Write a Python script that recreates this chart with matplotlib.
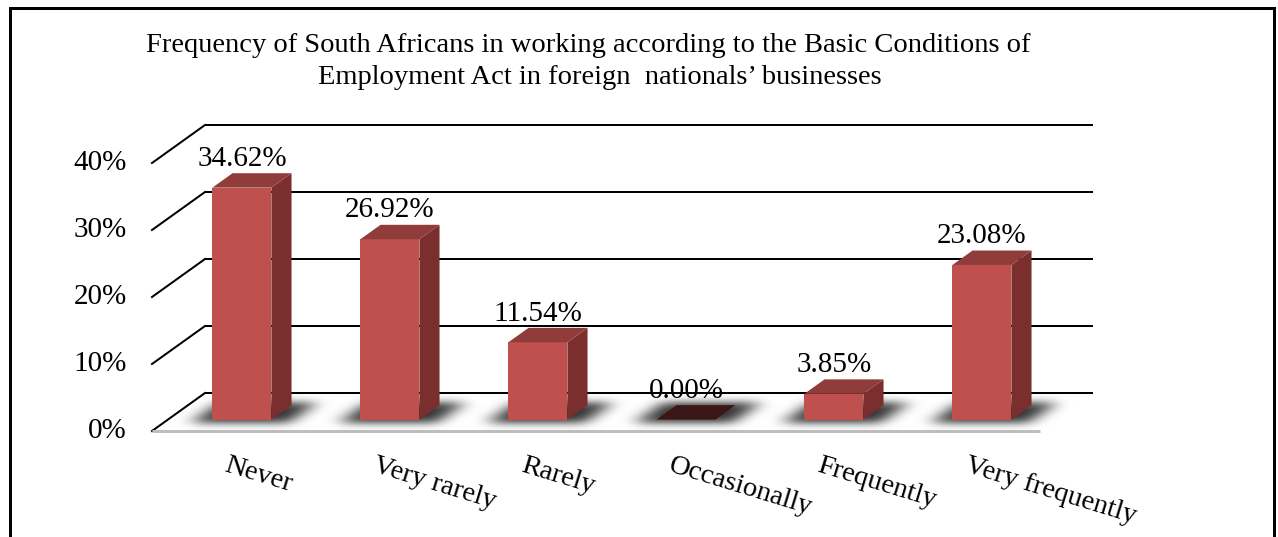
import numpy as np
import matplotlib
matplotlib.use("Agg")
import matplotlib.pyplot as plt
from matplotlib.patches import Polygon
from matplotlib.lines import Line2D

# ---- data -------------------------------------------------------------
categories = ["Never", "Very rarely", "Rarely", "Occasionally",
              "Frequently", "Very frequently"]
shares = [34.62, 26.92, 11.54, 0.00, 3.85, 23.08]          # percent
y_ticks = [0, 10, 20, 30, 40]
title_lines = [
    "Frequency of South Africans in working according to the Basic Conditions of",
    "Employment Act in foreign  nationals\u2019 businesses",
]

# ---- layout / style ---------------------------------------------------
W, H, DPI = 1278, 537, 100
FONT = "Liberation Serif"
FRONT = "#C0504D"
TOP = "#8F3C3A"
SIDE = "#7A2F2E"
ZERO = "#3A1616"

px_cat = 148.0          # pixels per category slot
px_pct = 6.7            # pixels per percentage point
ox, oy = 152.0, 431.0   # pixel position of the floor's front-left corner

# depth of the 3D box (in data units)
DX = 53.0 / px_cat
DY = 38.0 / px_pct
bar_w = 59.0 / px_cat
f0, fd = 0.30, 0.38     # bar starts at 30% of depth and is 38% deep

fig = plt.figure(figsize=(W / DPI, H / DPI), dpi=DPI)
ax = fig.add_axes([0, 0, 1, 1])
ax.set_xlim(-ox / px_cat, (W - ox) / px_cat)
ax.set_ylim((oy - H) / px_pct, oy / px_pct)
ax.axis("off")

n = len(categories)
lw_grid = 2.0 * 72 / DPI

# back wall gridlines, left wall diagonals and value axis labels
for g in y_ticks:
    ax.plot([DX, n + DX], [g + DY, g + DY], color="black", lw=lw_grid,
            solid_capstyle="butt", zorder=1)
    ax.plot([0, DX], [g, g + DY], color="black", lw=lw_grid, zorder=1)
    ax.text(-25.0 / px_cat, g, f"{g}%", ha="right", va="center",
            fontsize=21, family=FONT, zorder=5)

# floor front edge
ax.plot([0, n], [0, 0], color="#BFBFBF", lw=3 * 72 / DPI,
        solid_capstyle="butt", zorder=1)

# soft shadows on the floor
gx = np.linspace(-0.3, n + 0.8, 1400)
gy = np.linspace(-2.5, DY + 1.5, 160)
X, Y = np.meshgrid(gx, gy)
T = Y / DY
XF = X - T * DX
mask = np.zeros_like(X)
for i, v in enumerate(shares):
    c = i + 0.5
    mask[(XF >= c - bar_w / 2 - 0.12) & (XF <= c + bar_w / 2 + 0.14) &
         (T >= f0 - 0.08) & (T <= f0 + fd + 0.08)] = 1.0


def blur(a, sigma, axis):
    r = int(3 * sigma) + 1
    k = np.exp(-0.5 * (np.arange(-r, r + 1) / sigma) ** 2)
    k /= k.sum()
    return np.apply_along_axis(lambda m: np.convolve(m, k, mode="same"), axis, a)


sx = 9.0 / px_cat / (gx[1] - gx[0])
sy = 4.0 / px_pct / (gy[1] - gy[0])
mask = blur(blur(mask, sx, 1), sy, 0)
rgba = np.zeros(mask.shape + (4,))
rgba[..., 3] = np.clip(mask * 0.8, 0, 1)
ax.imshow(rgba, extent=[gx[0], gx[-1], gy[0], gy[-1]], origin="lower",
          aspect="auto", interpolation="bilinear", zorder=2)

# bars
for i, v in enumerate(shares):
    c = i + 0.5
    x0 = c - bar_w / 2 + f0 * DX
    y0 = f0 * DY
    ddx, ddy = fd * DX, fd * DY
    if v > 0:
        front = [(x0, y0), (x0 + bar_w, y0), (x0 + bar_w, y0 + v), (x0, y0 + v)]
        side = [(x0 + bar_w, y0), (x0 + bar_w + ddx, y0 + ddy),
                (x0 + bar_w + ddx, y0 + v + ddy), (x0 + bar_w, y0 + v)]
        top = [(x0, y0 + v), (x0 + bar_w, y0 + v),
               (x0 + bar_w + ddx, y0 + v + ddy), (x0 + ddx, y0 + v + ddy)]
        ax.add_patch(Polygon(side, closed=True, fc=SIDE, ec="none", zorder=3))
        ax.add_patch(Polygon(front, closed=True, fc=FRONT, ec="none", zorder=3))
        ax.add_patch(Polygon(top, closed=True, fc=TOP, ec="none", zorder=3))
    else:
        flat = [(x0, y0), (x0 + bar_w, y0), (x0 + bar_w + ddx, y0 + ddy),
                (x0 + ddx, y0 + ddy)]
        ax.add_patch(Polygon(flat, closed=True, fc=ZERO, ec="none", zorder=3))
    ax.text(c + f0 * DX, y0 + v + ddy + 0.2, f"{v:.2f}%", ha="center",
            va="bottom", fontsize=21, family=FONT, zorder=6)
    ax.text(c + 3.0 / px_cat, -22.0 / px_pct, categories[i], ha="left",
            va="top", rotation=-17, rotation_mode="anchor", fontsize=20.5,
            family=FONT, zorder=6)

# title
fig.text(588 / W, 1 - 45 / H, title_lines[0], ha="center", va="center",
         fontsize=20.5, family=FONT)
fig.text(600 / W, 1 - 78 / H, title_lines[1], ha="center", va="center",
         fontsize=20.5, family=FONT)

# outer frame (open at the bottom)
lw_frame = 3.0 * 72 / DPI
fx0, fx1, fy0 = 9.5 / W, 1273.5 / W, 1 - 7.5 / H
for xs, ys in [([fx0, fx1], [fy0, fy0]), ([fx0, fx0], [fy0, 0]),
               ([fx1, fx1], [fy0, 0])]:
    fig.add_artist(Line2D(xs, ys, color="black", lw=lw_frame,
                          transform=fig.transFigure))

fig.savefig("out.png", dpi=DPI)
